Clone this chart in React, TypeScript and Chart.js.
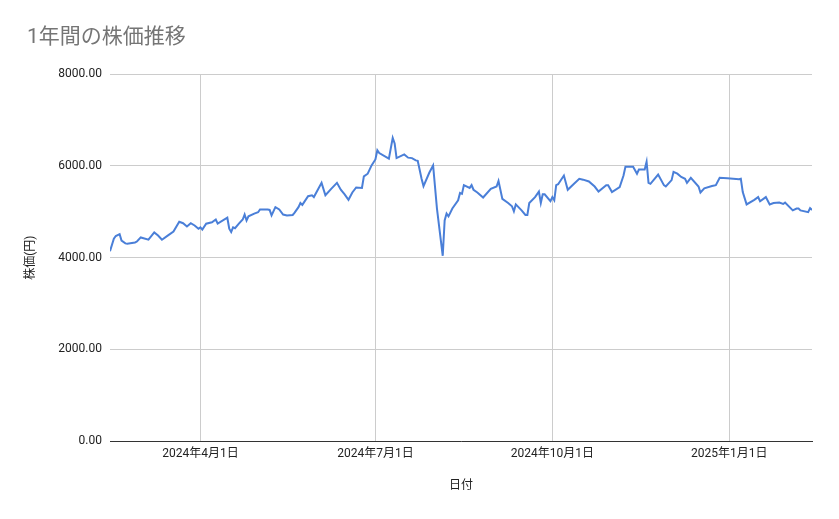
import React, { useEffect, useRef } from 'react';
import { Chart, registerables } from 'chart.js';

Chart.register(...registerables);

const startDate = '2024-02-14';
const endDate = '2025-02-13';

// trading dates
const dates: string[] = [
  '2024-02-14', '2024-02-16', '2024-02-17', '2024-02-19', '2024-02-20', '2024-02-22', '2024-02-23',
  '2024-02-27', '2024-02-28', '2024-03-01', '2024-03-05', '2024-03-08', '2024-03-10', '2024-03-12',
  '2024-03-15', '2024-03-18', '2024-03-21', '2024-03-23', '2024-03-25', '2024-03-27', '2024-03-29',
  '2024-03-31', '2024-04-01', '2024-04-02', '2024-04-04', '2024-04-07', '2024-04-09', '2024-04-10',
  '2024-04-15', '2024-04-16', '2024-04-17', '2024-04-18', '2024-04-19', '2024-04-21', '2024-04-23',
  '2024-04-24', '2024-04-25', '2024-04-26', '2024-04-29', '2024-05-01', '2024-05-02', '2024-05-06',
  '2024-05-07', '2024-05-08', '2024-05-10', '2024-05-12', '2024-05-14', '2024-05-16', '2024-05-19',
  '2024-05-20', '2024-05-22', '2024-05-23', '2024-05-24', '2024-05-27', '2024-05-29', '2024-05-30',
  '2024-06-03', '2024-06-05', '2024-06-08', '2024-06-11', '2024-06-13', '2024-06-15', '2024-06-17',
  '2024-06-19', '2024-06-21', '2024-06-24', '2024-06-25', '2024-06-27', '2024-06-29', '2024-07-01',
  '2024-07-02', '2024-07-03', '2024-07-08', '2024-07-10', '2024-07-11', '2024-07-12', '2024-07-16',
  '2024-07-18', '2024-07-20', '2024-07-22', '2024-07-23', '2024-07-25', '2024-07-26', '2024-07-29',
  '2024-07-31', '2024-08-02', '2024-08-05', '2024-08-06', '2024-08-07', '2024-08-08', '2024-08-10',
  '2024-08-13', '2024-08-14', '2024-08-15', '2024-08-16', '2024-08-19', '2024-08-20', '2024-08-21',
  '2024-08-23', '2024-08-26', '2024-08-30', '2024-09-02', '2024-09-03', '2024-09-05', '2024-09-08',
  '2024-09-10', '2024-09-11', '2024-09-12', '2024-09-15', '2024-09-17', '2024-09-18', '2024-09-19',
  '2024-09-22', '2024-09-24', '2024-09-25', '2024-09-26', '2024-09-27', '2024-09-30', '2024-10-01',
  '2024-10-02', '2024-10-03', '2024-10-04', '2024-10-07', '2024-10-09', '2024-10-12', '2024-10-15',
  '2024-10-17', '2024-10-20', '2024-10-23', '2024-10-25', '2024-10-29', '2024-10-30', '2024-11-01',
  '2024-11-05', '2024-11-07', '2024-11-08', '2024-11-12', '2024-11-14', '2024-11-15', '2024-11-18',
  '2024-11-19', '2024-11-20', '2024-11-21', '2024-11-25', '2024-11-28', '2024-11-29', '2024-12-02',
  '2024-12-03', '2024-12-05', '2024-12-07', '2024-12-09', '2024-12-10', '2024-12-12', '2024-12-16',
  '2024-12-17', '2024-12-19', '2024-12-23', '2024-12-25', '2024-12-27', '2024-12-31', '2025-01-06',
  '2025-01-07', '2025-01-08', '2025-01-10', '2025-01-14', '2025-01-16', '2025-01-17', '2025-01-20',
  '2025-01-22', '2025-01-24', '2025-01-27', '2025-01-29', '2025-01-30', '2025-02-03', '2025-02-05',
  '2025-02-06', '2025-02-07', '2025-02-11', '2025-02-12', '2025-02-13',
];

const prices: number[] = [
  4140, 4410, 4470, 4510, 4370, 4310, 4300,
  4330, 4350, 4440, 4390, 4550, 4480, 4390,
  4480, 4570, 4780, 4750, 4680, 4750, 4700,
  4630, 4660, 4610, 4740, 4770, 4830, 4740,
  4870, 4630, 4560, 4660, 4640, 4740, 4830,
  4940, 4810, 4900, 4960, 4990, 5050, 5050,
  5040, 4920, 5100, 5050, 4940, 4920, 4930,
  4980, 5100, 5190, 5150, 5340, 5360, 5320,
  5630, 5360, 5500, 5630, 5480, 5380, 5260,
  5420, 5530, 5520, 5770, 5830, 6010, 6140,
  6340, 6280, 6160, 6610, 6490, 6170, 6250,
  6180, 6170, 6120, 6110, 5720, 5560, 5850,
  6010, 5070, 4040, 4810, 4960, 4900, 5070,
  5250, 5410, 5390, 5580, 5520, 5580, 5480,
  5420, 5310, 5500, 5550, 5670, 5280, 5190,
  5120, 5010, 5160, 5030, 4930, 4930, 5190,
  5320, 5440, 5190, 5380, 5380, 5230, 5320,
  5250, 5580, 5600, 5790, 5480, 5600, 5720,
  5700, 5660, 5550, 5440, 5580, 5580, 5430,
  5540, 5790, 5980, 5980, 5830, 5920, 5920,
  6090, 5630, 5610, 5810, 5580, 5550, 5690,
  5870, 5830, 5760, 5720, 5630, 5740, 5550,
  5420, 5510, 5560, 5580, 5740, 5730, 5710,
  5720, 5430, 5160, 5260, 5320, 5230, 5320,
  5160, 5190, 5200, 5170, 5200, 5030, 5070,
  5070, 5030, 4990, 5080, 5040,
];

const tickDates: string[] = ['2024-04-01', '2024-07-01', '2024-10-01', '2025-01-01'];

const DAY = 86400000;
const dayOf = (s: string) => Math.round((Date.parse(s) - Date.parse(startDate)) / DAY);
const fmtDay = (v: number) => {
  const d = new Date(Date.parse(startDate) + v * DAY);
  return `${d.getUTCFullYear()}年${d.getUTCMonth() + 1}月${d.getUTCDate()}日`;
};

const family = 'Roboto, "Noto Sans CJK JP", sans-serif';

const StockChart: React.FC = () => {
  const chartRef = useRef<HTMLCanvasElement | null>(null);
  const chartInstanceRef = useRef<Chart | null>(null);

  useEffect(() => {
    document.body.style.margin = '0';
    if (!chartRef.current) return;
    const ctx = chartRef.current.getContext('2d');
    if (!ctx) return;

    if (chartInstanceRef.current) {
      chartInstanceRef.current.destroy();
    }

    chartInstanceRef.current = new Chart(ctx, {
      type: 'line',
      data: {
        datasets: [
          {
            label: '株価(円)',
            data: dates.map((d, i) => ({ x: dayOf(d), y: prices[i] })),
            borderColor: '#4a7fd8',
            borderWidth: 2,
            pointRadius: 0,
            tension: 0,
            fill: false,
          },
        ],
      },
      options: {
        animation: false,
        responsive: true,
        maintainAspectRatio: false,
        layout: { padding: { left: 27, right: 27, top: 0, bottom: 0 } },
        plugins: {
          legend: { display: false },
          tooltip: { enabled: false },
          title: {
            display: true,
            text: '1年間の株価推移',
            align: 'start',
            color: '#757575',
            font: { family, size: 21, weight: 'normal' },
            padding: { top: 25, bottom: 24 },
          },
        },
        scales: {
          x: {
            type: 'linear',
            min: 0,
            max: dayOf(endDate),
            afterBuildTicks: (scale: any) => {
              scale.ticks = tickDates.map((d) => ({ value: dayOf(d) }));
            },
            afterFit: (scale: any) => {
              scale.height = 78;
            },
            grid: { color: '#cccccc', drawTicks: false },
            border: { display: true, color: '#333333', width: 1 },
            ticks: {
              padding: 6,
              color: '#222222',
              autoSkip: false,
              maxRotation: 0,
              font: { family, size: 12 },
              callback: (v: any) => fmtDay(Number(v)),
            },
            title: {
              display: true,
              text: '日付',
              color: '#222222',
              font: { family, size: 12 },
              padding: { top: 0, bottom: 26 },
            },
          },
          y: {
            min: 0,
            max: 8000,
            afterFit: (scale: any) => {
              scale.width = 83;
            },
            grid: { color: '#cccccc', drawTicks: false },
            border: { display: false },
            ticks: {
              stepSize: 2000,
              padding: 8,
              color: '#222222',
              font: { family, size: 12 },
              callback: (v: any) => Number(v).toFixed(2),
            },
            title: {
              display: true,
              text: '株価(円)',
              color: '#222222',
              font: { family, size: 12 },
              padding: { top: -3, bottom: 0 },
            },
          },
        },
      },
    });

    return () => {
      if (chartInstanceRef.current) {
        chartInstanceRef.current.destroy();
        chartInstanceRef.current = null;
      }
    };
  }, []);

  return (
    <div style={{ position: 'relative', width: 839, height: 519 }}>
      <canvas ref={chartRef}></canvas>
    </div>
  );
};

export default function App() {
  return <StockChart />;
}
